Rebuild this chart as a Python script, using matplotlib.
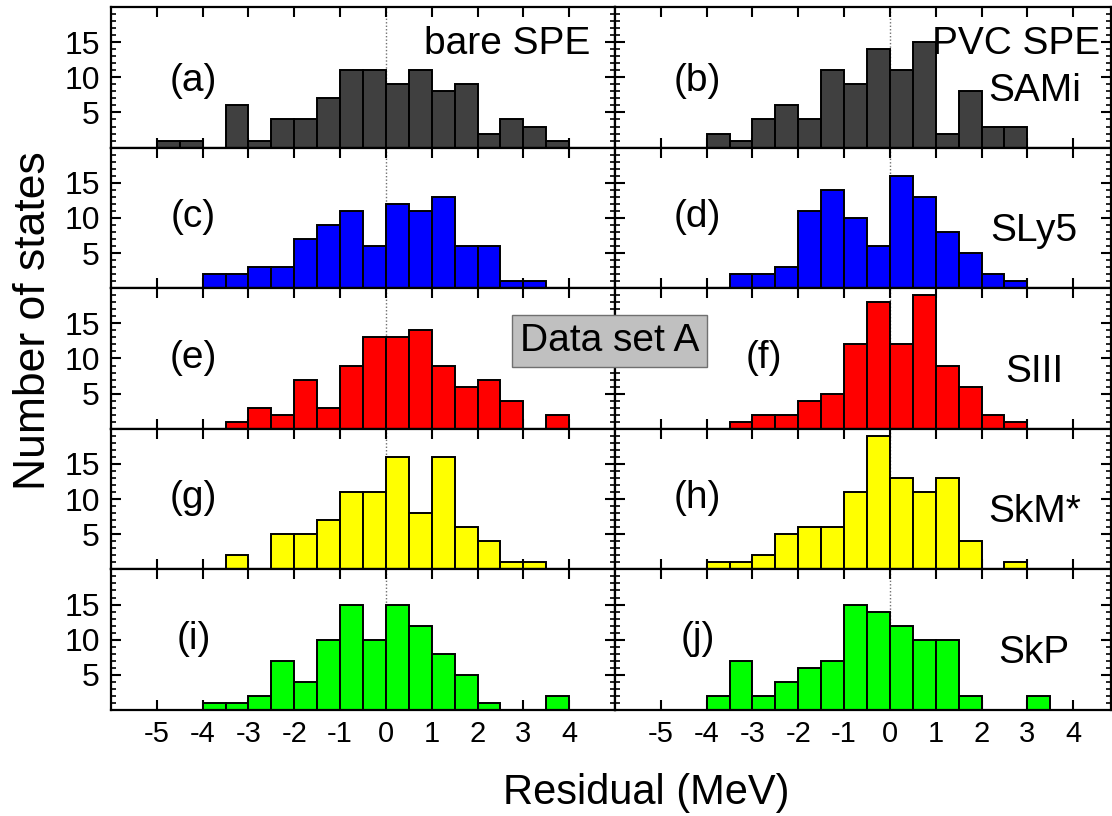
import numpy as np
import matplotlib.pyplot as plt
from matplotlib.ticker import MultipleLocator

plt.rcParams['font.family'] = ['Liberation Sans', 'DejaVu Sans']

# histogram bins (left edges, MeV), width 0.5
bin_left = [-5.0, -4.5, -4.0, -3.5, -3.0, -2.5, -2.0, -1.5, -1.0, -0.5,
            0.0, 0.5, 1.0, 1.5, 2.0, 2.5, 3.0, 3.5]
bin_width = 0.5

# counts: bare SPE (left column) and PVC SPE (right column)
sami_bare = [1, 1, 0, 6, 1, 4, 4, 7, 11, 11, 9, 11, 8, 9, 2, 4, 3, 1]
sami_pvc  = [0, 0, 2, 1, 4, 6, 4, 11, 9, 14, 11, 15, 2, 8, 3, 3, 0, 0]
sly5_bare = [0, 0, 2, 2, 3, 3, 7, 9, 11, 6, 12, 11, 13, 6, 6, 1, 1, 0]
sly5_pvc  = [0, 0, 0, 2, 2, 3, 11, 14, 10, 6, 16, 13, 8, 5, 2, 1, 0, 0]
siii_bare = [0, 0, 0, 1, 3, 2, 7, 3, 9, 13, 13, 14, 9, 6, 7, 4, 0, 2]
siii_pvc  = [0, 0, 0, 1, 2, 2, 4, 5, 12, 18, 12, 19, 9, 6, 2, 1, 0, 0]
skms_bare = [0, 0, 0, 2, 0, 5, 5, 7, 11, 11, 16, 8, 16, 6, 4, 1, 1, 0]
skms_pvc  = [0, 0, 1, 1, 2, 5, 6, 6, 11, 19, 13, 11, 13, 4, 0, 1, 0, 0]
skp_bare  = [0, 0, 1, 1, 2, 7, 4, 10, 15, 10, 15, 12, 8, 5, 1, 0, 0, 2]
skp_pvc   = [0, 0, 2, 7, 2, 4, 6, 7, 15, 14, 12, 10, 10, 2, 0, 0, 2, 0]

models = ['SAMi', 'SLy5', 'SIII', 'SkM*', 'SkP']
colors = ['#404040', '#0000ff', '#ff0000', '#ffff00', '#00ff00']
bare = [sami_bare, sly5_bare, siii_bare, skms_bare, skp_bare]
pvc = [sami_pvc, sly5_pvc, siii_pvc, skms_pvc, skp_pvc]
letters = ['(a)', '(b)', '(c)', '(d)', '(e)', '(f)', '(g)', '(h)', '(i)', '(j)']
xticks = [-5, -4, -3, -2, -1, 0, 1, 2, 3, 4]

W, H = 1112, 816
fig = plt.figure(figsize=(W / 100, H / 100), dpi=100)

x_left, x_mid, x_right = 111, 615, 1111
y_top, y_bot = 7, 710
row_h = (y_bot - y_top) / 5
ppu = (x_mid - x_left) / 11.0
fs = 28


def style(ax, show_x, show_y):
    ax.set_ylim(0, 20)
    ax.set_xticks(xticks)
    ax.set_yticks([5, 10, 15])
    ax.yaxis.set_minor_locator(MultipleLocator(1))
    ax.tick_params(which='both', direction='in', top=True, right=True)
    ax.tick_params(which='major', length=7, width=1.5)
    ax.tick_params(which='minor', length=3.5, width=1.2)
    ax.tick_params(axis='x', labelsize=21, pad=7, labelbottom=show_x)
    ax.tick_params(axis='y', labelsize=23, pad=8, labelleft=show_y)
    ax.set_xticklabels([str(t) for t in xticks])
    for s in ax.spines.values():
        s.set_linewidth(1.6)


for r in range(5):
    yb = 1 - (y_top + (r + 1) * row_h) / H
    hh = row_h / H
    axl = fig.add_axes([x_left / W, yb, (x_mid - x_left) / W, hh])
    axr = fig.add_axes([x_mid / W, yb, (x_right - x_mid) / W, hh])
    axl.set_xlim(-6, 5)
    axr.set_xlim(-6, -6 + (x_right - x_mid) / ppu)

    for ax, counts in ((axl, bare[r]), (axr, pvc[r])):
        ax.axvline(0, color='#707070', ls=(0, (1, 1.5)), lw=1, zorder=0)
        xs = [b for b, c in zip(bin_left, counts) if c > 0]
        hs = [c for c in counts if c > 0]
        ax.bar(xs, hs, width=bin_width, align='edge', color=colors[r],
               edgecolor='black', linewidth=1.4, zorder=2)
        style(ax, r == 4, ax is axl)

    ly = 9.5 if r == 0 else 10.1
    axl.text(-4.2, ly, letters[2 * r], fontsize=fs, ha='center', va='center')
    rx = -2.75 if r == 2 else -4.2
    axr.text(rx, ly, letters[2 * r + 1], fontsize=fs, ha='center', va='center')
    axr.text(3.15, 8.1, models[r], fontsize=fs, ha='center', va='center')

    if r == 0:
        axl.text(2.65, 14.8, 'bare SPE', fontsize=fs, ha='center', va='center')
        axr.text(2.75, 14.8, 'PVC SPE', fontsize=fs, ha='center', va='center',
                 zorder=5)

fig.text(0.548, 0.582, 'Data set A', fontsize=fs, ha='center', va='center',
         bbox=dict(boxstyle='square,pad=0.2', fc='#c0c0c0', ec='#707070', lw=1))
fig.text(0.03, 0.607, 'Number of states', fontsize=32, rotation=90,
         ha='center', va='center')
fig.text(0.581, 0.028, 'Residual (MeV)', fontsize=30, ha='center', va='center')

fig.savefig('out.png', dpi=100)
